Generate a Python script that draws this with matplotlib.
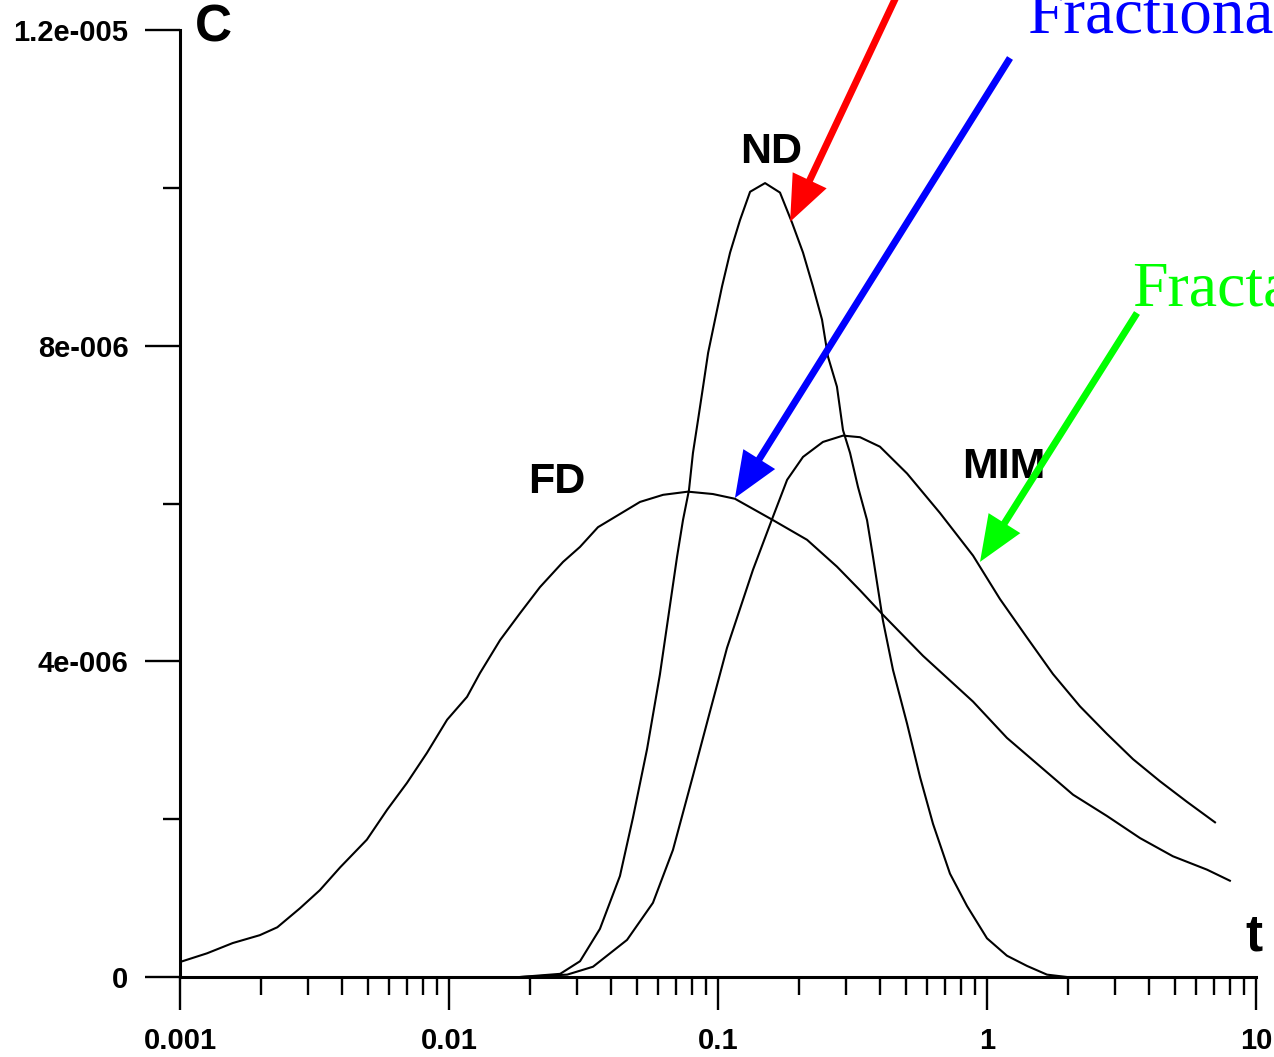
import numpy as np
import matplotlib
matplotlib.use("Agg")
import matplotlib.pyplot as plt
from matplotlib.ticker import FixedLocator, NullFormatter

# ── Data (C in units of 1e-6) ─────────────────────────────────────────
t_fd = [0.001, 0.00126, 0.00157, 0.00198, 0.0023, 0.00279, 0.00331, 0.00394,
        0.00495, 0.00589, 0.00698, 0.00828, 0.00984, 0.01167, 0.01303, 0.01549,
        0.01837, 0.02178, 0.02655, 0.03069, 0.0358, 0.0513, 0.0625, 0.0773,
        0.0957, 0.1156, 0.160, 0.2143, 0.2768, 0.3373, 0.4102, 0.5781, 0.8872,
        1.186, 1.574, 2.089, 2.793, 3.707, 4.909, 6.577, 7.998]
c_fd = [0.19, 0.30, 0.43, 0.53, 0.63, 0.87, 1.10, 1.39,
        1.74, 2.12, 2.46, 2.84, 3.26, 3.55, 3.85, 4.27,
        4.61, 4.94, 5.26, 5.45, 5.70, 6.02, 6.11, 6.15,
        6.12, 6.06, 5.79, 5.54, 5.20, 4.90, 4.59, 4.07, 3.49,
        3.03, 2.67, 2.31, 2.04, 1.76, 1.53, 1.36, 1.22]

t_nd = [0.0184, 0.0259, 0.0307, 0.0364, 0.0432, 0.0483, 0.0545, 0.0608,
        0.0704, 0.0741, 0.0780, 0.0807, 0.0843, 0.0880, 0.0919, 0.0975,
        0.1035, 0.1109, 0.1207, 0.1316, 0.1496, 0.1700, 0.1884, 0.2070,
        0.2254, 0.2436, 0.2564, 0.2768, 0.2915, 0.3097, 0.3314, 0.3581,
        0.3771, 0.4102, 0.4473, 0.5045, 0.5641, 0.6300, 0.7283, 0.8427,
        1.0, 1.186, 1.409, 1.671, 1.982]
c_nd = [0.0, 0.04, 0.20, 0.61, 1.28, 2.02, 2.89, 3.83,
        5.32, 5.79, 6.17, 6.64, 7.06, 7.48, 7.91, 8.33,
        8.75, 9.18, 9.59, 9.95, 10.06, 9.94, 9.56, 9.18,
        8.75, 8.33, 7.86, 7.48, 6.93, 6.64, 6.21, 5.79,
        5.32, 4.52, 3.89, 3.21, 2.53, 1.94, 1.31, 0.90,
        0.49, 0.27, 0.14, 0.03, 0.0]

t_mim = [0.0184, 0.0275, 0.0343, 0.0459, 0.0573, 0.0680, 0.0807, 0.0933,
         0.1080, 0.1349, 0.1600, 0.1807, 0.2070, 0.2455, 0.2915, 0.3373,
         0.3999, 0.5045, 0.6685, 0.8872, 1.117, 1.409, 1.758, 2.216,
         2.793, 3.491, 4.397, 5.537, 7.040]
c_mim = [0.0, 0.03, 0.13, 0.47, 0.94, 1.61, 2.55, 3.36,
         4.17, 5.16, 5.83, 6.30, 6.59, 6.78, 6.86, 6.84,
         6.72, 6.38, 5.88, 5.34, 4.79, 4.30, 3.84, 3.43,
         3.08, 2.76, 2.48, 2.22, 1.96]

x_ticks = [0.001, 0.01, 0.1, 1, 10]
x_labels = ["0.001", "0.01", "0.1", "1", "10"]
y_ticks = [0, 4e-6, 8e-6, 1.2e-5]
y_labels = ["0", "4e-006", "8e-006", "1.2e-005"]
y_minor = [2e-6, 6e-6, 1e-5]

curve_names = ["FD", "ND", "MIM"]
name_pos = [(0.0252, 6.27e-6), (0.1574, 10.46e-6), (1.156, 6.46e-6)]

# arrow tips (data) for the coloured call-outs
arrow_tips = [(0.1854, 9.57e-6), (0.1156, 6.07e-6), (0.942, 5.26e-6)]
arrow_colors = ["#ff0000", "#0000ff", "#00ff00"]

SANS = "Liberation Sans"
SERIF = "Liberation Serif"
W, H = 1274, 1057


def fx(px):
    return px / W


def fy(py):
    return 1 - py / H


fig = plt.figure(figsize=(W / 100, H / 100), dpi=100, facecolor="white")
ax = fig.add_axes([fx(180), fy(977), fx(1256) - fx(180), fy(30) - fy(977)])

ax.plot(t_fd, np.array(c_fd) * 1e-6, color="black", lw=1.5)
ax.plot(t_nd, np.array(c_nd) * 1e-6, color="black", lw=1.5)
ax.plot(t_mim, np.array(c_mim) * 1e-6, color="black", lw=1.5)

ax.set_xscale("log")
ax.set_xlim(0.001, 10)
ax.set_ylim(0, 1.2e-5)

# ── Axes styling ──────────────────────────────────────────────────────
for s in ["top", "right"]:
    ax.spines[s].set_visible(False)
for s in ["left", "bottom"]:
    ax.spines[s].set_linewidth(2.2)

ax.xaxis.set_major_locator(FixedLocator(x_ticks))
ax.set_xticklabels(x_labels)
minor_x = [m * 10.0 ** e for e in range(-3, 1) for m in range(2, 10)]
ax.xaxis.set_minor_locator(FixedLocator(minor_x))
ax.xaxis.set_minor_formatter(NullFormatter())

ax.yaxis.set_major_locator(FixedLocator(y_ticks))
ax.set_yticklabels(y_labels)
ax.yaxis.set_minor_locator(FixedLocator(y_minor))

ax.tick_params(axis="x", which="major", direction="out", length=24, width=1.7, pad=12)
ax.tick_params(axis="x", which="minor", direction="out", length=13, width=1.7)
ax.tick_params(axis="y", which="major", direction="out", length=25, width=1.7, pad=12)
ax.tick_params(axis="y", which="minor", direction="out", length=12, width=1.7)
for lab in ax.get_xticklabels() + ax.get_yticklabels():
    lab.set_fontfamily(SANS)
    lab.set_fontweight("bold")
    lab.set_fontsize(21)

# ── Labels ────────────────────────────────────────────────────────────
fig.text(fx(213), fy(28), "C", family=SANS, fontweight="bold", fontsize=37,
         ha="center", va="center")
fig.text(fx(1254), fy(937), "t", family=SANS, fontweight="bold", fontsize=37,
         ha="center", va="center")

for name, (xt, yc) in zip(curve_names, name_pos):
    ax.text(xt, yc, name, family=SANS, fontweight="bold", fontsize=31,
            ha="center", va="center")

# ── Call-out arrows ───────────────────────────────────────────────────
tails = [(fx(897), fy(-5)), (fx(1010), fy(58)), (fx(1137), fy(313))]
for tip, tail, col in zip(arrow_tips, tails, arrow_colors):
    ax.annotate("", xy=tip, xycoords="data", xytext=tail,
                textcoords="figure fraction", annotation_clip=False,
                arrowprops=dict(arrowstyle="simple,head_length=33,head_width=27,tail_width=5",
                                mutation_scale=1, facecolor=col, edgecolor="none",
                                shrinkA=0, shrinkB=0))

fig.text(fx(1027), fy(33), "Fractional", family=SERIF, fontsize=47,
         color="#0000ff", ha="left", va="baseline")
fig.text(fx(1132), fy(305), "Fractal", family=SERIF, fontsize=46,
         color="#00ff00", ha="left", va="baseline")

fig.savefig("out.png", dpi=100, facecolor="white")
